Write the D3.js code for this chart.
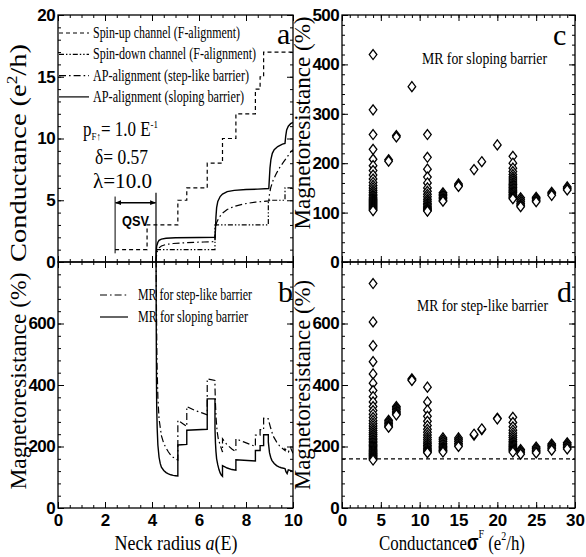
<!DOCTYPE html>
<html><head><meta charset="utf-8">
<script src="https://cdn.jsdelivr.net/npm/d3@7"></script>
<style>body{margin:0;background:#fff}svg{display:block}</style>
</head><body><svg id="fig" width="586" height="557"></svg>
<script>
// ---------- tick labels ----------
const aTicks = [0, 2, 4, 6, 8, 10];
const condTicks = [0, 5, 10, 15, 20];
const mrBTicks = [0, 200, 400, 600];
const mrCTicks = [0, 100, 200, 300, 400, 500];
const mrDTicks = [0, 200, 400, 600];
const sigmaTicks = [0, 5, 10, 15, 20, 25, 30];

// ---------- panel a: conductance vs neck radius ----------
const spinUp = [[2.43,1],[3.79,3],[5.1,5],[5.48,6],[6.35,8],[7.0,10],[7.57,12],[8.4,14],[8.6,15],[8.75,17],[10,17]];
const spinDown = [[4.17,1],[6.68,3],[8.95,5],[9.66,6],[10,6]];
const apStep = [[4.17,0],[4.2,0.7],[4.25,1.0],[4.3,1.15],[4.4,1.3],[4.6,1.42],[4.9,1.5],[5.5,1.57],[6.2,1.62],[6.68,1.65],
  [6.7,2.7],[6.75,3.2],[6.85,3.6],[7.0,3.95],[7.2,4.25],[7.5,4.5],[7.9,4.7],[8.4,4.85],[8.97,4.95],
  [9.0,5.5],[9.05,6.0],[9.15,6.6],[9.3,7.2],[9.45,7.7],[9.6,8.1],[9.75,8.5],[9.9,8.9],[10,9.1]];
const apSlope = [[4.17,0],[4.18,0.8],[4.2,1.3],[4.25,1.6],[4.3,1.75],[4.4,1.85],[4.6,1.92],[5.0,1.96],[6.0,1.98],[6.68,2.0],
  [6.7,2.6],[6.72,3.6],[6.75,4.4],[6.8,4.9],[6.9,5.3],[7.0,5.5],[7.2,5.7],[7.5,5.8],[8.0,5.87],[8.5,5.9],[8.97,5.95],
  [8.99,6.6],[9.02,7.6],[9.06,8.3],[9.12,8.8],[9.2,9.1],[9.35,9.35],[9.55,9.55],[9.66,9.6],
  [9.69,10.2],[9.73,10.7],[9.8,11.0],[9.9,11.2],[10,11.3]];

// ---------- panel b: MR vs neck radius ----------
const mrStep = [[4.17,900],[4.19,650],[4.21,480],[4.25,360],[4.3,290],[4.4,235],[4.5,210],[4.6,195],[4.7,182],[4.8,172],[4.9,165],[5.0,160],[5.1,156],
  [5.1,285],[5.3,275],[5.48,265],[5.48,330],[5.8,318],[6.1,310],[6.35,303],
  [6.35,420],[6.68,415],[6.68,393],[6.7,340],[6.73,290],[6.77,250],[6.82,225],[6.9,205],[7.0,182],
  [7.0,225],[7.2,205],[7.4,192],[7.57,183],[7.57,225],[7.9,215],[8.2,206],[8.4,200],
  [8.4,237],[8.6,237],[8.6,255],[8.75,255],[8.75,292],[8.95,290],
  [8.95,288],[9.05,260],[9.15,235],[9.3,215],[9.45,200],[9.66,187],[9.66,192],[9.8,182],[9.9,195],[10,178]];
const mrSlope = [[4.17,900],[4.18,600],[4.19,420],[4.2,330],[4.22,260],[4.25,205],[4.3,165],[4.35,145],[4.4,133],[4.5,122],[4.6,115],[4.7,111],[4.8,108],[4.9,106],[5.0,105],[5.1,104],
  [5.1,205],[5.48,207],[5.48,253],[6.35,256],[6.35,355],[6.68,355],
  [6.68,258],[6.7,212],[6.72,185],[6.75,160],[6.8,140],[6.85,125],[6.9,114],[6.95,107],[7.0,103],
  [7.0,138],[7.2,130],[7.4,125],[7.57,123],[7.57,157],[8.4,153],
  [8.4,187],[8.6,187],[8.6,203],[8.75,203],[8.75,238],[8.95,238],
  [8.95,215],[9.0,180],[9.05,165],[9.1,155],[9.2,145],[9.3,138],[9.4,134],[9.5,131],[9.66,128],
  [9.7,118],[9.75,112],[9.8,124],[10,120]];

// ---------- panels c, d: MR vs conductance sigma^F ----------
const sigmaCols = [4, 6, 7, 9, 11, 13, 15, 17, 18, 20, 22, 23, 25, 27, 29];
const mrSlopeCols = [
  [420,308,258,228,208,195,185,176,168,161,155,150,145,141,137,134,131,128,126,124,122,120,118,116,114,112,110,108,106,104],
  [207,204],
  [256,253],
  [355],
  [258,212,188,172,160,150,143,137,132,127,123,119,116,113,110,108,106,104,103],
  [140,137,134,131,128,125,123],
  [158,155,153],
  [187],
  [203],
  [237],
  [214,200,190,183,177,172,168,164,160,157,154,151,148,145,142,140,137,135,132,130,128],
  [130,126,122,118,115,112],
  [131,128,125,122],
  [141,138,135],
  [152,149,146]
];
const mrStepCols = [
  [730,605,528,476,436,406,382,362,345,330,317,305,294,284,275,267,259,252,245,239,233,227,222,217,212,207,203,199,195,191,187,184,180,177,174,171,168,165,162,159,156],
  [285,280,275,270,266,263],
  [330,325,320,315,310,306,303],
  [420,417,415],
  [393,345,318,298,282,268,256,246,237,229,222,215,209,203,198,193,189,185,182,180],
  [228,222,216,210,205,200,196,192,188,185,182],
  [228,222,216,210,205,200],
  [237,240],
  [255,257],
  [292,290],
  [295,278,264,253,244,236,229,222,216,211,206,202,198,194,190,186,182],
  [190,185,180,175],
  [198,193,188,183,179],
  [208,203,198,193,188],
  [212,207,202,197,192]
];
const mrRefLine = 160;

// ---------- drawing ----------
const svg = d3.select('#fig');
const SANS = '"Liberation Sans", Arial, sans-serif';
const SERIF = '"Liberation Serif", "Times New Roman", serif';

const xA = d3.scaleLinear().domain([0, 10]).range([58, 293]);
const yA = d3.scaleLinear().domain([0, 20]).range([262, 15]);
const yB = d3.scaleLinear().domain([0, 800]).range([508, 262]);
const xC = d3.scaleLinear().domain([0, 30]).range([342, 575]);
const yC = d3.scaleLinear().domain([0, 500]).range([262, 15]);
const yD = d3.scaleLinear().domain([0, 800]).range([508, 262]);

function frame(x, y, xMajor, xMinorStep, yMajor, yMinorStep, showX, yLabels) {
  const g = svg.append('g');
  const [x0, x1] = x.range(), [y0, y1] = y.range();
  const xd = x.domain(), yd = y.domain();
  const xMinor = d3.range(xd[0], xd[1] + 1e-9, xMinorStep);
  const yMinor = d3.range(yd[0], yd[1] + 1e-9, yMinorStep);
  const mk = (axisFn, scale, vals, size, pos) => {
    const a = axisFn(scale).tickValues(vals).tickSize(size).tickSizeOuter(0).tickFormat('');
    const gg = g.append('g').attr('transform', pos).call(a);
    gg.select('.domain').remove();
    gg.selectAll('line').attr('stroke', '#000').attr('stroke-width', 1);
    return gg;
  };
  mk(d3.axisBottom, x, xMinor, -3, `translate(0,${y0})`);
  mk(d3.axisBottom, x, xMajor, -6, `translate(0,${y0})`);
  mk(d3.axisTop, x, xMinor, -3, `translate(0,${y1})`);
  mk(d3.axisTop, x, xMajor, -6, `translate(0,${y1})`);
  mk(d3.axisLeft, y, yMinor, -3, `translate(${x0},0)`);
  mk(d3.axisLeft, y, yMajor, -6, `translate(${x0},0)`);
  mk(d3.axisRight, y, yMinor, -3, `translate(${x1},0)`);
  mk(d3.axisRight, y, yMajor, -6, `translate(${x1},0)`);
  g.append('rect').attr('x', x0).attr('y', y1).attr('width', x1 - x0).attr('height', y0 - y1)
    .attr('fill', 'none').attr('stroke', '#000').attr('stroke-width', 1.3);
  if (showX) {
    const ax = d3.axisBottom(x).tickValues(xMajor).tickSize(0).tickPadding(6).tickFormat(d3.format('d'));
    const gg = svg.append('g').attr('transform', `translate(0,${y0})`).call(ax);
    gg.select('.domain').remove();
    gg.selectAll('text').attr('font-family', SANS).attr('font-weight', 'bold').attr('font-size', 17).attr('fill', '#000');
  }
  const ay = d3.axisLeft(y).tickValues(yLabels).tickSize(0).tickPadding(3).tickFormat(d3.format('d'));
  const gy = svg.append('g').attr('transform', `translate(${x0},0)`).call(ay);
  gy.select('.domain').remove();
  gy.selectAll('text').attr('font-family', SANS).attr('font-weight', 'bold').attr('font-size', 17).attr('fill', '#000')
    .attr('letter-spacing', -0.6);
}

frame(xA, yA, aTicks, 0.5, condTicks, 1, false, condTicks);
frame(xA, yB, aTicks, 0.5, mrBTicks.concat([800]), 40, true, mrBTicks);
frame(xC, yC, sigmaTicks, 1, mrCTicks, 20, false, mrCTicks);
frame(xC, yD, sigmaTicks, 1, mrDTicks.concat([800]), 40, true, mrDTicks);

// clip paths
const defs = svg.append('defs');
defs.append('clipPath').attr('id', 'clipA').append('rect').attr('x', xA(0)).attr('y', yA(20)).attr('width', xA(10) - xA(0)).attr('height', yA(0) - yA(20));
defs.append('clipPath').attr('id', 'clipB').append('rect').attr('x', xA(0)).attr('y', yB(800)).attr('width', xA(10) - xA(0)).attr('height', yB(0) - yB(800));
const mkr = defs.append('marker').attr('id', 'arr').attr('viewBox', '0 0 10 10').attr('refX', 9).attr('refY', 5)
  .attr('markerWidth', 6).attr('markerHeight', 6).attr('orient', 'auto-start-reverse').attr('markerUnits', 'userSpaceOnUse');
mkr.append('path').attr('d', 'M0,1L10,5L0,9Z').attr('fill', '#000');

const DASH_UP = '4,3', DASH_DOWN = '5,2,1.4,2,1.4,2', DASH_STEP = '7,3,1.6,3';

// panel a curves
const lineA = d3.line().x(d => xA(d[0])).y(d => yA(d[1]));
const stepA = d3.line().x(d => xA(d[0])).y(d => yA(d[1])).curve(d3.curveStepAfter);
const gA = svg.append('g').attr('clip-path', 'url(#clipA)').attr('fill', 'none').attr('stroke', '#000').attr('stroke-width', 1.2);
gA.append('path').attr('d', stepA(spinUp)).attr('stroke-dasharray', DASH_UP);
gA.append('path').attr('d', stepA(spinDown)).attr('stroke-dasharray', DASH_DOWN);
gA.append('path').attr('d', lineA(apStep)).attr('stroke-dasharray', DASH_STEP);
gA.append('path').attr('d', lineA(apSlope)).attr('stroke-width', 1.4);

// QSV annotation
svg.append('line').attr('x1', xA(2.43)).attr('x2', xA(2.43)).attr('y1', yA(5.3)).attr('y2', yA(0.7)).attr('stroke', '#000').attr('stroke-width', 1);
svg.append('line').attr('x1', xA(4.17)).attr('x2', xA(4.17)).attr('y1', yA(5.6)).attr('y2', yA(0)).attr('stroke', '#000').attr('stroke-width', 1.2);
svg.append('line').attr('x1', xA(2.45)).attr('x2', xA(4.15)).attr('y1', yA(4.8)).attr('y2', yA(4.8))
  .attr('stroke', '#000').attr('stroke-width', 1.5).attr('marker-start', 'url(#arr)').attr('marker-end', 'url(#arr)');
svg.append('text').attr('x', xA(3.3)).attr('y', 226).attr('text-anchor', 'middle').attr('font-family', SANS)
  .attr('font-weight', 'bold').attr('font-size', 15).attr('textLength', 27).attr('lengthAdjust', 'spacingAndGlyphs').text('QSV');

// panel a legend
const legA = [
  ['Spin-up channel (F-alignment)', DASH_UP, 147],
  ['Spin-down channel (F-alignment)', DASH_DOWN, 163],
  ['AP-alignment (step-like barrier)', DASH_STEP, 156],
  ['AP-alignment (sloping barrier)', null, 151]
];
legA.forEach((d, i) => {
  const yy = 33 + i * 21.3;
  svg.append('line').attr('x1', 59).attr('x2', 89).attr('y1', yy).attr('y2', yy).attr('stroke', '#000')
    .attr('stroke-width', 1.2).attr('stroke-dasharray', d[1]);
  svg.append('text').attr('x', 93).attr('y', yy + 5).attr('font-family', SERIF).attr('font-size', 16)
    .attr('textLength', d[2]).attr('lengthAdjust', 'spacingAndGlyphs').text(d[0]);
});

// parameters
const tp = svg.append('text').attr('x', 83).attr('y', 136).attr('font-family', SERIF).attr('font-size', 21)
  .attr('textLength', 75).attr('lengthAdjust', 'spacingAndGlyphs');
tp.append('tspan').text('p');
tp.append('tspan').attr('font-size', 11).attr('dy', 4).text('F\u2191');
tp.append('tspan').attr('dy', -4).text('= 1.0 E');
tp.append('tspan').attr('font-size', 11).attr('dy', -8).text('-1');
svg.append('text').attr('x', 95).attr('y', 164).attr('font-family', SERIF).attr('font-size', 21)
  .attr('textLength', 53).attr('lengthAdjust', 'spacingAndGlyphs').text('\u03b4= 0.57');
svg.append('text').attr('x', 93).attr('y', 188).attr('font-family', SERIF).attr('font-size', 21)
  .attr('textLength', 59).attr('lengthAdjust', 'spacingAndGlyphs').text('\u03bb=10.0');

// panel b curves
const lineB = d3.line().x(d => xA(d[0])).y(d => yB(d[1]));
const gB = svg.append('g').attr('clip-path', 'url(#clipB)').attr('fill', 'none').attr('stroke', '#000');
gB.append('path').attr('d', lineB(mrStep)).attr('stroke-dasharray', DASH_STEP).attr('stroke-width', 1.2);
gB.append('path').attr('d', lineB(mrSlope)).attr('stroke-width', 1.4);

// panel b legend
[['MR for step-like barrier', DASH_STEP, 114], ['MR for sloping barrier', null, 110]].forEach((d, i) => {
  const yy = 295 + i * 22;
  svg.append('line').attr('x1', 100).attr('x2', 128).attr('y1', yy).attr('y2', yy).attr('stroke', '#000')
    .attr('stroke-width', 1.2).attr('stroke-dasharray', d[1]);
  svg.append('text').attr('x', 138).attr('y', yy + 5).attr('font-family', SERIF).attr('font-size', 16)
    .attr('textLength', d[2]).attr('lengthAdjust', 'spacingAndGlyphs').text(d[0]);
});

// panels c, d scatter
const diamond = 'M0,-5L3.8,0L0,5L-3.8,0Z';
function scatter(cols, y) {
  const pts = [];
  sigmaCols.forEach((s, i) => cols[i].forEach(v => pts.push([s, v])));
  svg.append('g').selectAll('path').data(pts).join('path')
    .attr('d', diamond).attr('transform', d => `translate(${xC(d[0])},${y(d[1])})`)
    .attr('fill', '#fff').attr('stroke', '#000').attr('stroke-width', 1.3);
}
scatter(mrSlopeCols, yC);
svg.append('line').attr('x1', xC(0)).attr('x2', xC(30)).attr('y1', yD(mrRefLine)).attr('y2', yD(mrRefLine))
  .attr('stroke', '#000').attr('stroke-width', 1.2).attr('stroke-dasharray', '4,3');
scatter(mrStepCols, yD);

svg.append('text').attr('x', 422).attr('y', 64).attr('font-family', SERIF).attr('font-size', 17)
  .attr('textLength', 125).attr('lengthAdjust', 'spacingAndGlyphs').text('MR for sloping barrier');
svg.append('text').attr('x', 417).attr('y', 311).attr('font-family', SERIF).attr('font-size', 17)
  .attr('textLength', 131).attr('lengthAdjust', 'spacingAndGlyphs').text('MR for step-like barrier');

// panel letters
[['a', 277, 44], ['b', 278, 302], ['c', 553, 45], ['d', 557, 302]].forEach(d => {
  svg.append('text').attr('x', d[1]).attr('y', d[2]).attr('font-family', SERIF).attr('font-size', 30).text(d[0]);
});

// axis titles
function ytitle(x, cy, len, parts) {
  const t = svg.append('text').attr('transform', `translate(${x},${cy}) rotate(-90)`).attr('text-anchor', 'middle')
    .attr('font-family', SERIF).attr('font-size', 23).attr('textLength', len).attr('lengthAdjust', 'spacingAndGlyphs');
  parts(t);
}
ytitle(26, 153, 218, t => { t.append('tspan').text('Conductance (e'); t.append('tspan').attr('font-size', 14).attr('dy', -9).text('2');
  t.append('tspan').attr('dy', 9).text('/h)'); });
ytitle(26, 381, 217, t => t.text('Magnetoresistance (%)'));
ytitle(310, 123, 213, t => t.text('Magnetoresistance (%)'));
ytitle(310, 385, 210, t => t.text('Magnetoresistance (%)'));

const tx1 = svg.append('text').attr('x', 176).attr('y', 550).attr('text-anchor', 'middle').attr('font-family', SERIF)
  .attr('font-size', 22).attr('textLength', 123).attr('lengthAdjust', 'spacingAndGlyphs');
tx1.append('tspan').text('Neck radius ');
tx1.append('tspan').attr('font-style', 'italic').text('a');
tx1.append('tspan').text('(E)');

const tx2 = svg.append('text').attr('x', 452).attr('y', 550).attr('text-anchor', 'middle').attr('font-family', SERIF)
  .attr('font-size', 22).attr('textLength', 146).attr('lengthAdjust', 'spacingAndGlyphs');
tx2.append('tspan').text('Conductance');
tx2.append('tspan').attr('font-weight', 'bold').attr('font-family', SANS).text('\u03c3');
tx2.append('tspan').attr('font-size', 13).attr('dy', -12).text('F');
tx2.append('tspan').attr('dy', 12).text(' (e');
tx2.append('tspan').attr('font-size', 13).attr('dy', -10).text('2');
tx2.append('tspan').attr('dy', 10).text('/h)');
</script></body></html>
